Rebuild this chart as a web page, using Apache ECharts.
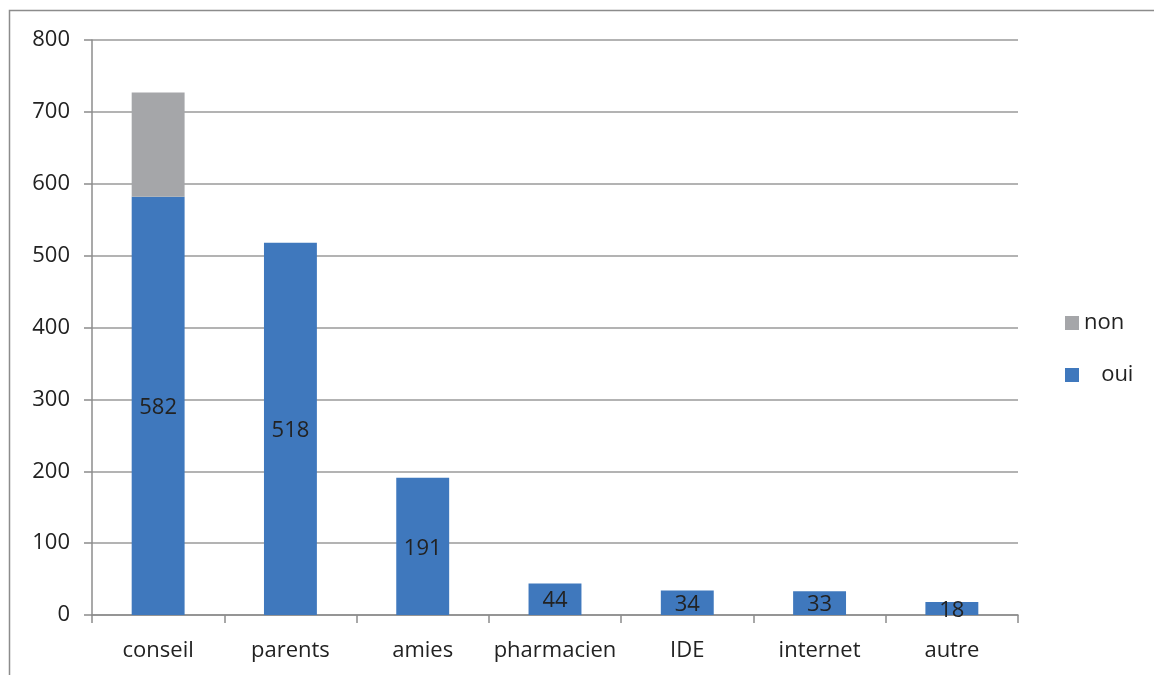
<!DOCTYPE html>
<html><head><meta charset="utf-8">
<script src="https://cdn.jsdelivr.net/npm/echarts@6/dist/echarts.min.js"></script>
<style>html,body{margin:0;padding:0;background:#fff}#c{width:1154px;height:675px}</style>
</head><body><div id="c"></div>
<script>
const categories = ['conseil','parents','amies','pharmacien','IDE','internet','autre'];
const ouiValues = [582, 518, 191, 44, 34, 33, 18];
const nonValues = [145, 0, 0, 0, 0, 0, 0];
const yTicks = [0, 100, 200, 300, 400, 500, 600, 700, 800];

const FONT = '"Open Sans", "Liberation Sans", sans-serif';
const chart = echarts.init(document.getElementById('c'), null, {renderer: 'canvas'});
chart.setOption({
  animation: false,
  backgroundColor: '#fff',
  graphic: [{
    type: 'rect', shape: {x: 9.5, y: 10.5, width: 1200, height: 700},
    style: {fill: 'none', stroke: '#8c8c8c', lineWidth: 1.5}, silent: true, z: -1
  }],
  grid: {left: 92, right: 136, top: 40, bottom: 60},
  legend: {
    orient: 'vertical', left: 1060, top: 307, itemGap: 30,
    itemWidth: 14, itemHeight: 14, icon: 'rect',
    data: [{name: 'non'}, {name: 'oui'}],
    formatter: n => n === 'oui' ? '   oui' : 'non',
    textStyle: {fontFamily: FONT, fontSize: 22, color: '#222'}
  },
  xAxis: {
    type: 'category', data: categories,
    axisLine: {lineStyle: {color: '#8c8c8c', width: 1.5}},
    axisTick: {show: true, interval: 0, length: 8, alignWithLabel: false, lineStyle: {color: '#8c8c8c', width: 1.5}},
    axisLabel: {interval: 0, fontFamily: FONT, fontSize: 22, color: '#222', margin: 25}
  },
  yAxis: {
    type: 'value', min: yTicks[0], max: yTicks[yTicks.length - 1], interval: 100,
    axisLine: {show: true, lineStyle: {color: '#8c8c8c', width: 1.5}},
    axisTick: {show: true, length: 8, lineStyle: {color: '#8c8c8c', width: 1.5}},
    splitLine: {lineStyle: {color: '#9a9a9a', width: 1.5}},
    axisLabel: {fontFamily: FONT, fontSize: 22, color: '#222', margin: 22}
  },
  series: [
    {
      name: 'oui', type: 'bar', stack: 't', data: ouiValues, barWidth: '40%',
      itemStyle: {color: '#3f78bd'},
      label: {show: true, position: 'inside', offset: [0, 2], fontFamily: FONT, fontSize: 22, color: '#222'}
    },
    {
      name: 'non', type: 'bar', stack: 't', data: nonValues, barWidth: '40%',
      itemStyle: {color: '#a5a6a9'},
      label: {show: false}
    }
  ]
});
</script></body></html>
